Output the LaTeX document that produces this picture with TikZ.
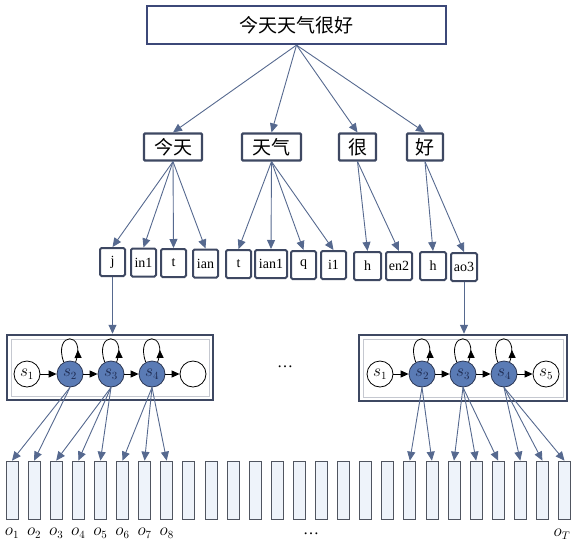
\documentclass[tikz,border=0pt]{standalone}
\usepackage{fontspec}
\setmainfont{Liberation Serif}
\newfontfamily\cjk{Noto Sans CJK SC}
\usetikzlibrary{arrows.meta,decorations.markings}
\definecolor{connc}{HTML}{56698F}
\definecolor{boxb}{HTML}{3E4862}
\definecolor{topb}{HTML}{3C4878}
\definecolor{stfill}{HTML}{5A7BB5}
\definecolor{stdraw}{HTML}{2A3552}
\definecolor{sttext}{HTML}{1D2A50}
\definecolor{obsb}{HTML}{505560}
\definecolor{obsf}{HTML}{EEF3FA}
\tikzset{
  topbox/.style={draw=topb, line width=2.2pt, fill=white, inner sep=0pt,
    minimum width=299pt, minimum height=38pt, font=\cjk\fontsize{19}{19}\selectfont},
  wordbox/.style={draw=boxb, line width=2.2pt, rounded corners=1pt, fill=white, inner sep=0pt,
    minimum height=27pt, font=\cjk\fontsize{19}{19}\selectfont},
  phbox/.style={draw=boxb, line width=2pt, rounded corners=1.5pt, fill=white, inner sep=0pt,
    minimum height=28pt, font=\fontsize{14}{14}\selectfont},
  hmmbox/.style={draw=boxb, line width=2.5pt, inner sep=0pt},
  hmminner/.style={draw=boxb!30, line width=0.5pt, inner sep=0pt},
  state/.style={circle, draw=black, line width=0.8pt, minimum size=26pt, inner sep=0pt,
    fill=white, font=\fontsize{16}{16}\selectfont},
  hstate/.style={state, fill=stfill, draw=stdraw, text=sttext},
  obs/.style={draw=obsb, line width=0.7pt, fill=obsf, minimum width=12pt,
    minimum height=58pt, inner sep=0pt},
  connarr/.style={draw=connc, line width=0.9pt, -{Triangle[length=9pt,width=8pt]}},
  sarr/.style={line width=1pt, -{Triangle[length=8pt,width=7pt]}},
  selfloop/.style={line width=0.8pt, postaction=decorate,
    decoration={markings, mark=at position 0.22 with {\arrow{Triangle[length=8pt,width=7pt]}}}},
  olabel/.style={font=\fontsize{16}{16}\selectfont, inner sep=0pt},
}
\begin{document}
\begin{tikzpicture}[x=1pt,y=-1pt]
\useasboundingbox (0,0) rectangle (577,544);
% top
\node[topbox] (top) at (296.5,25) {今天天气很好};
% words
\node[wordbox, minimum width=58pt] (w1) at (173,147) {今天};
\node[wordbox, minimum width=59pt] (w2) at (271.5,147) {天气};
\node[wordbox, minimum width=37pt] (w3) at (357.5,147) {很};
\node[wordbox, minimum width=36pt] (w4) at (425,147) {好};
\foreach \w in {w1,w2,w3,w4} \draw[connarr] (top.south) -- (\w.north);
% phonemes
\node[phbox, minimum width=25pt] (p1) at (112.5,262) {j};
\node[phbox, minimum width=25pt] (p2) at (143.5,262.5) {in1};
\node[phbox, minimum width=25pt] (p3) at (173.5,263) {t};
\node[phbox, minimum width=25pt] (p4) at (205.5,263.5) {ian};
\node[phbox, minimum width=25pt] (p5) at (238.5,264) {t};
\node[phbox, minimum width=32pt] (p6) at (271,264) {ian1};
\node[phbox, minimum width=25pt] (p7) at (303.5,265) {q};
\node[phbox, minimum width=25pt] (p8) at (333.5,265) {i1};
\node[phbox, minimum width=27pt] (p9) at (367.5,266) {h};
\node[phbox, minimum width=26pt] (p10) at (399,266) {en2};
\node[phbox, minimum width=26pt] (p11) at (433,266) {h};
\node[phbox, minimum width=26pt] (p12) at (464,267) {ao3};
\foreach \p in {p1,p2,p3,p4} \draw[connarr] (w1.south) -- (\p.north);
\foreach \p in {p5,p6,p7,p8} \draw[connarr] (w2.south) -- (\p.north);
\foreach \p in {p9,p10} \draw[connarr] (w3.south) -- (\p.north);
\foreach \p in {p11,p12} \draw[connarr] (w4.south) -- (\p.north);
% HMM boxes
\node[hmmbox, minimum width=206pt, minimum height=65pt] (lh) at (110,367.5) {};
\node[hmminner, minimum width=198pt, minimum height=57pt] (lhi) at (110,367.5) {};
\node[hmmbox, minimum width=208pt, minimum height=66pt] (rh) at (463,368) {};
\node[hmminner, minimum width=200pt, minimum height=58pt] (rhi) at (463,368) {};
\draw[connarr] (p1.south) -- (p1.south |- lh.north);
\draw[connarr] (p12.south) -- (p12.south |- rh.north);
% left states
\node[state] (ls1) at (27,374) {$s_1$};
\node[hstate] (ls2) at (70,374) {$s_2$};
\node[hstate] (ls3) at (111,374) {$s_3$};
\node[hstate] (ls4) at (152,374) {$s_4$};
\node[state] (ls5) at (193,374) {};
\draw[sarr] (ls1) -- (ls2);
\draw[sarr] (ls2) -- (ls3);
\draw[sarr] (ls3) -- (ls4);
\draw[sarr] (ls4) -- (ls5);
% right states
\node[state] (rs1) at (380,374) {$s_1$};
\node[hstate] (rs2) at (422,374) {$s_2$};
\node[hstate] (rs3) at (463,374) {$s_3$};
\node[hstate] (rs4) at (504,374) {$s_4$};
\node[state] (rs5) at (546,374) {$s_5$};
\draw[sarr] (rs1) -- (rs2);
\draw[sarr] (rs2) -- (rs3);
\draw[sarr] (rs3) -- (rs4);
\draw[sarr] (rs4) -- (rs5);
\foreach \s in {ls2,ls3,ls4,rs2,rs3,rs4}
  \draw[selfloop] (\s.65) .. controls +(11,-31) and +(-11,-31) .. (\s.118);
\node[olabel] (dots1) at (285,367) {\dots};
% observations
\foreach \i in {0,...,25}
  \node[obs] (o\i) at ({12+22.1*\i},490) {};
\foreach \i/\n in {0/1,1/2,2/3,3/4,4/5,5/6,6/7,7/8}
  \node[olabel] (ol\i) at ({12+22.1*\i},533) {$o_{\n}$};
\node[olabel] (dots2) at (311,534) {\dots};
\node[olabel] (olT) at (562,534) {$o_T$};
\foreach \o in {o0,o1} \draw[connarr] (ls2.south) -- (\o.north);
\foreach \o in {o2,o3,o4} \draw[connarr] (ls3.south) -- (\o.north);
\foreach \o in {o5,o6,o7} \draw[connarr] (ls4.south) -- (\o.north);
\foreach \o in {o18,o19} \draw[connarr] (rs2.south) -- (\o.north);
\foreach \o in {o20,o21,o22} \draw[connarr] (rs3.south) -- (\o.north);
\foreach \o in {o23,o24,o25} \draw[connarr] (rs4.south) -- (\o.north);
\end{tikzpicture}
\end{document}
